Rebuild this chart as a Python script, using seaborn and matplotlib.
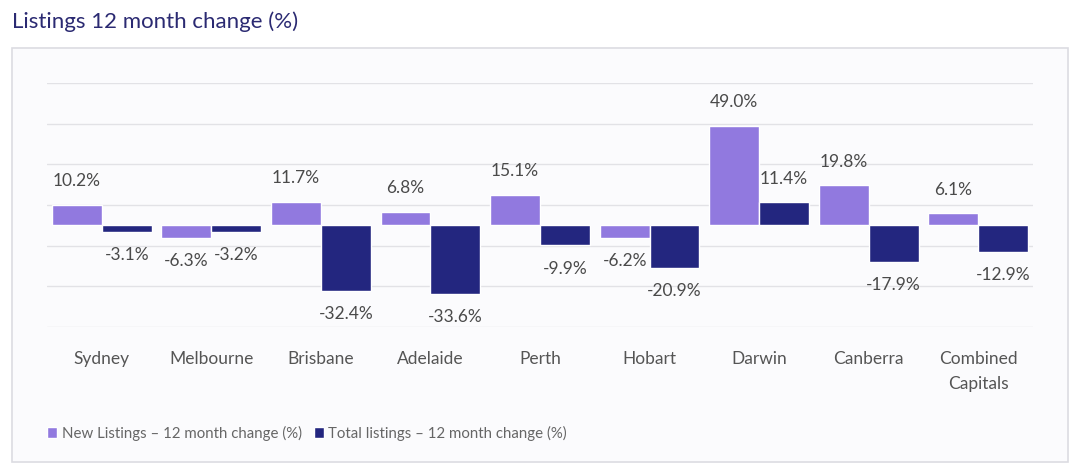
import matplotlib
matplotlib.use("Agg")
import matplotlib.pyplot as plt
from matplotlib.patches import Rectangle
import seaborn as sns
import pandas as pd

# Data
cities = ["Sydney", "Melbourne", "Brisbane", "Adelaide", "Perth",
          "Hobart", "Darwin", "Canberra", "Combined\nCapitals"]
new_listings = [10.2, -6.3, 11.7, 6.8, 15.1, -6.2, 49.0, 19.8, 6.1]
total_listings = [-3.1, -3.2, -32.4, -33.6, -9.9, -20.9, 11.4, -17.9, -12.9]
series_names = ["New Listings \u2013 12 month change (%)",
                "Total listings \u2013 12 month change (%)"]
grid_values = [-50, -30, -10, 10, 30, 50, 70]

colors = ["#9179DF", "#23267F"]

df = pd.DataFrame({
    "city": cities * 2,
    "value": new_listings + total_listings,
    "series": [series_names[0]] * len(cities) + [series_names[1]] * len(cities),
})

sns.set_style("white")
plt.rcParams["font.family"] = ["Lato", "DejaVu Sans"]

fig = plt.figure(figsize=(10.8, 4.72), dpi=100)
fig.patch.set_facecolor("white")

# Panel frame
fig.patches.append(Rectangle((12 / 1080, 1 - 462 / 472), 1056 / 1080, 414 / 472,
                             transform=fig.transFigure, facecolor="#fbfbfd",
                             edgecolor="#dcdce2", linewidth=1.2, zorder=-10))

ax = fig.add_axes([47 / 1080, 1 - 327 / 472, 986 / 1080, 244 / 472])
ax.set_facecolor("none")

sns.barplot(data=df, x="city", y="value", hue="series", palette=colors,
            width=0.91, saturation=1, ax=ax, legend=False)

ax.set_ylim(-50, 70)
ax.set_xlim(-0.5, len(cities) - 0.5)
for g in grid_values:
    ax.axhline(g, color="#e2e2e6", linewidth=1, zorder=0)

for container in ax.containers:
    ax.bar_label(container, fmt="%.1f%%", padding=11, fontsize=12.5,
                 color="#4a4a4a", family=["Lato", "DejaVu Sans"])

ax.set_yticks([])
ax.set_xlabel("")
ax.set_ylabel("")
ax.tick_params(axis="x", length=0, pad=17, labelsize=12.5, labelcolor="#555555")
for lbl in ax.get_xticklabels():
    lbl.set_verticalalignment("top")
    lbl.set_linespacing(1.7)
sns.despine(ax=ax, left=True, bottom=True)

# Title
fig.text(12 / 1080, 1 - 22 / 472, "Listings 12 month change (%)", fontsize=16,
         color="#2b2a72", va="center", ha="left")

# Legend
handles = [Rectangle((0, 0), 1, 1, facecolor=c) for c in colors]
fig.legend(handles, series_names, loc="center left",
           bbox_to_anchor=(33 / 1080, 1 - 433 / 472), frameon=False,
           ncol=2, fontsize=10.8, handlelength=0.7, handleheight=0.7,
           handletextpad=0.3, columnspacing=0.8, labelcolor="#666666")

fig.savefig("out.png", dpi=100)
